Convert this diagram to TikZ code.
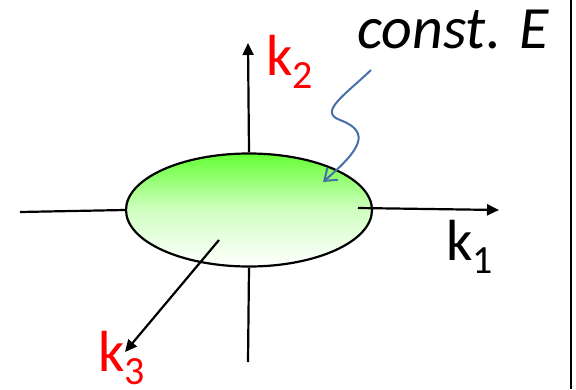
\documentclass[tikz,border=0pt]{standalone}
\usepackage{fontspec}
\setmainfont{Carlito}
\usetikzlibrary{shapes.geometric,arrows.meta}
\definecolor{kred}{RGB}{255,0,0}
\definecolor{egreen}{RGB}{100,255,50}
\definecolor{wblue}{RGB}{70,112,170}
\tikzset{
  axis/.style={line width=2.2pt,black},
  axarrow/.style={axis,-{Triangle[length=12pt,width=11pt]}},
  klabel/.style={inner sep=0pt,anchor=base west,font=\fontsize{58}{58}\selectfont},
  surf/.style={ellipse,draw,line width=2.2pt,minimum width=246pt,minimum height=113pt,inner sep=0pt,top color=egreen,bottom color=white,middle color=egreen!30!white},
}
\newcommand{\ksub}[1]{\raisebox{-13pt}{\fontsize{40}{40}\selectfont #1}}
\begin{document}
\begin{tikzpicture}[x=1pt,y=-1pt]
\useasboundingbox (0,0) rectangle (576,389);
\fill[white] (0,0) rectangle (576,389);
% right frame line
\coordinate (ft) at (571,0);
\coordinate (fb) at (571,389);
\draw[line width=2pt] (ft) -- (fb);
% surface
\node[surf] (S) at (249,210) {};
% axis ends
\coordinate (x2top) at (248,43);
\coordinate (x2bot) at (248,362);
\coordinate (x1l) at (20,212);
\coordinate (x1s) at (358,208);
\coordinate (x1r) at (499,210);
\coordinate (x3s) at (219,240);
\coordinate (x3e) at (125,352);
\draw[axis] (x1l) -- (S.west);
\draw[axarrow] (x1s) -- (x1r);
\draw[axarrow] (S.north) -- (x2top);
\draw[axis] (S.south) -- (x2bot);
\draw[axarrow] (x3s) -- (x3e);
% labels
\node[klabel,text=kred] (k2) at (266,75) {k\ksub{2}};
\node[klabel,text=kred] (k3) at (98,371) {k\ksub{3}};
\node[klabel,text=black] (k1) at (446,260) {k\ksub{1}};
\node[inner sep=0pt,anchor=base west,font=\fontsize{60}{60}\selectfont\itshape] (cE) at (357,48) {const. E};
% wiggly arrow
\coordinate (w0) at (371,70);
\coordinate (w3) at (323,182);
\draw[wblue,line width=2pt,-{Straight Barb[length=11pt,width=16pt,line width=2pt]}]
  (w0) .. controls (345,95) and (318,112) .. (340,120)
  .. controls (372,132) and (360,150) .. (w3);
\end{tikzpicture}
\end{document}
